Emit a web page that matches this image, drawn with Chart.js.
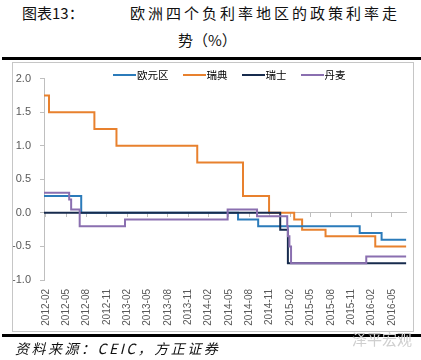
<!DOCTYPE html>
<html>
<head>
<meta charset="utf-8">
<script src="https://cdn.jsdelivr.net/npm/chart.js@4.4.1/dist/chart.umd.min.js"></script>
<style>
  html, body { margin: 0; padding: 0; background: #fff; }
  body { width: 421px; height: 360px; position: relative; overflow: hidden; font-family: "Noto Sans CJK SC", sans-serif; }
  .t { position: absolute; font-size: 15px; line-height: 18px; color: #111; white-space: nowrap; }
  .rule { position: absolute; left: 2px; right: 0; height: 3px; background: #000; }
  #frame { position: absolute; left: 12px; top: 62px; width: 400px; height: 268px; border: 1px solid #c6c6c6; }
  #frame canvas { position: absolute; left: 0; top: 0; }
  #legend { position: absolute; left: 113px; top: 68px; height: 14px; display: flex; align-items: center; gap: 14px;
            font-size: 10.5px; line-height: 14px; color: #000; white-space: nowrap; }
  #legend .item { display: flex; align-items: center; }
  #legend .swatch { width: 23px; height: 2px; margin-right: 1px; }
</style>
</head>
<body>
<div class="t" style="left:22px;top:4px">图表13：</div>
<div class="t" style="left:130px;top:4px;letter-spacing:3px">欧洲四个负利率地区的政策利率走</div>
<div class="t" style="left:178px;top:31px">势（%）</div>
<div class="rule" style="top:57px"></div>
<div id="frame"><canvas id="chart" width="400" height="268"></canvas></div>
<div id="legend"></div>
<div class="rule" style="top:334px"></div>
<div class="t" style="left:15px;top:339px;font-size:14px;font-style:italic;letter-spacing:2.5px">资料来源：CEIC，方正证券</div>
<div class="t" style="left:352px;top:330px;color:#cfcfcf">泽平宏观</div>

<script>
// x tick labels, every 3 months
const tickLabels = ['2012-02', '2012-05', '2012-08', '2012-11', '2013-02', '2013-05', '2013-08', '2013-11',
    '2014-02', '2014-05', '2014-08', '2014-11', '2015-02', '2015-05', '2015-08', '2015-11', '2016-02', '2016-05'];
const seriesNames = ['欧元区', '瑞典', '瑞士', '丹麦'];

const axisStart = '2012-01-24';
const axisEnd = '2016-07-05';

// policy rate change dates and the rate after each change (%)
const ecbDates = ['2012-01-24', '2012-07-08', '2014-06-11', '2014-09-10', '2015-12-09', '2016-03-16', '2016-07-05'];
const ecbRates = [0.25, 0, -0.1, -0.2, -0.3, -0.4, -0.4];

const sweDates = ['2012-01-24', '2012-02-15', '2012-09-06', '2012-12-14', '2013-12-11', '2014-07-03', '2014-10-29',
    '2015-02-18', '2015-03-25', '2015-07-08', '2016-02-17', '2016-07-05'];
const sweRates = [1.75, 1.5, 1.25, 1.0, 0.75, 0.25, 0, -0.1, -0.25, -0.35, -0.5, -0.5];

const chfDates = ['2012-01-24', '2014-12-18', '2015-01-22', '2016-07-05'];
const chfRates = [0, -0.25, -0.75, -0.75];

const dkkDates = ['2012-01-24', '2012-05-15', '2012-05-24', '2012-07-01', '2013-01-22', '2014-04-25', '2014-09-05',
    '2015-01-19', '2015-01-22', '2015-01-29', '2015-02-05', '2016-01-08', '2016-07-05'];
const dkkRates = [0.3, 0.2, 0.05, -0.2, -0.1, 0.05, -0.05, -0.2, -0.35, -0.5, -0.75, -0.65, -0.65];

const colors = ['#2b7bba', '#e8812e', '#172b4d', '#8a6fb0'];

// months since 2012-02-01
function monthPos(s) {
    const [y, m, d] = s.split('-').map(Number);
    const days = new Date(y, m, 0).getDate();
    return (y - 2012) * 12 + (m - 2) + (d - 1) / days;
}
function toPoints(dates, rates) {
    return dates.map((d, i) => ({ x: monthPos(d), y: rates[i] }));
}

const tickFont = { family: 'Liberation Sans', size: 10 };
const axisGray = '#bfbfbf';
const xMin = monthPos(axisStart);
const xMax = monthPos(axisEnd);

// draw order: Denmark on top, then Switzerland, euro area, Sweden
const series = [
    { data: toPoints(ecbDates, ecbRates), order: 2 },
    { data: toPoints(sweDates, sweRates), order: 3 },
    { data: toPoints(chfDates, chfRates), order: 1 },
    { data: toPoints(dkkDates, dkkRates), order: 0 }
];

// legend sits inside the plot, one row
const legend = document.getElementById('legend');
seriesNames.forEach((name, i) => {
    const item = document.createElement('div');
    item.className = 'item';
    const sw = document.createElement('span');
    sw.className = 'swatch';
    sw.style.background = colors[i];
    item.appendChild(sw);
    item.appendChild(document.createTextNode(name));
    legend.appendChild(item);
});

new Chart(document.getElementById('chart').getContext('2d'), {
    type: 'line',
    data: {
        datasets: series.map((s, i) => ({
            label: seriesNames[i],
            data: s.data,
            order: s.order,
            borderColor: colors[i],
            backgroundColor: colors[i],
            borderWidth: 2,
            pointRadius: 0,
            stepped: true,
            fill: false
        }))
    },
    options: {
        responsive: false,
        animation: false,
        layout: { padding: { left: 0, top: 5, right: 3, bottom: 0 } },
        plugins: {
            tooltip: { enabled: false },
            legend: { display: false }
        },
        scales: {
            x: {
                type: 'linear',
                min: xMin,
                max: xMax,
                grid: { display: false, drawTicks: false },
                border: { display: false },
                ticks: {
                    stepSize: 3,
                    includeBounds: false,
                    maxTicksLimit: 100,
                    autoSkip: false,
                    minRotation: 90,
                    maxRotation: 90,
                    padding: 9,
                    color: '#595959',
                    font: tickFont,
                    callback: v => tickLabels[Math.round(v / 3)] ?? ''
                },
                afterFit: s => { s.height = 51; }
            },
            x2: {
                type: 'linear',
                axis: 'x',
                position: { y: 0 },
                min: xMin,
                max: xMax,
                ticks: { display: false, stepSize: 3, includeBounds: false, maxTicksLimit: 100 },
                grid: { drawOnChartArea: false, tickLength: 4, color: axisGray },
                border: { color: axisGray }
            },
            y: {
                min: -1,
                max: 2,
                grid: { drawOnChartArea: false, tickLength: 4, color: axisGray },
                border: { color: axisGray },
                ticks: {
                    stepSize: 0.5,
                    padding: 9,
                    color: '#595959',
                    font: { family: 'Liberation Sans', size: 11 },
                    callback: v => v.toFixed(1)
                },
                afterFit: s => { s.width = 31; }
            }
        }
    }
});
</script>
</body>
</html>
